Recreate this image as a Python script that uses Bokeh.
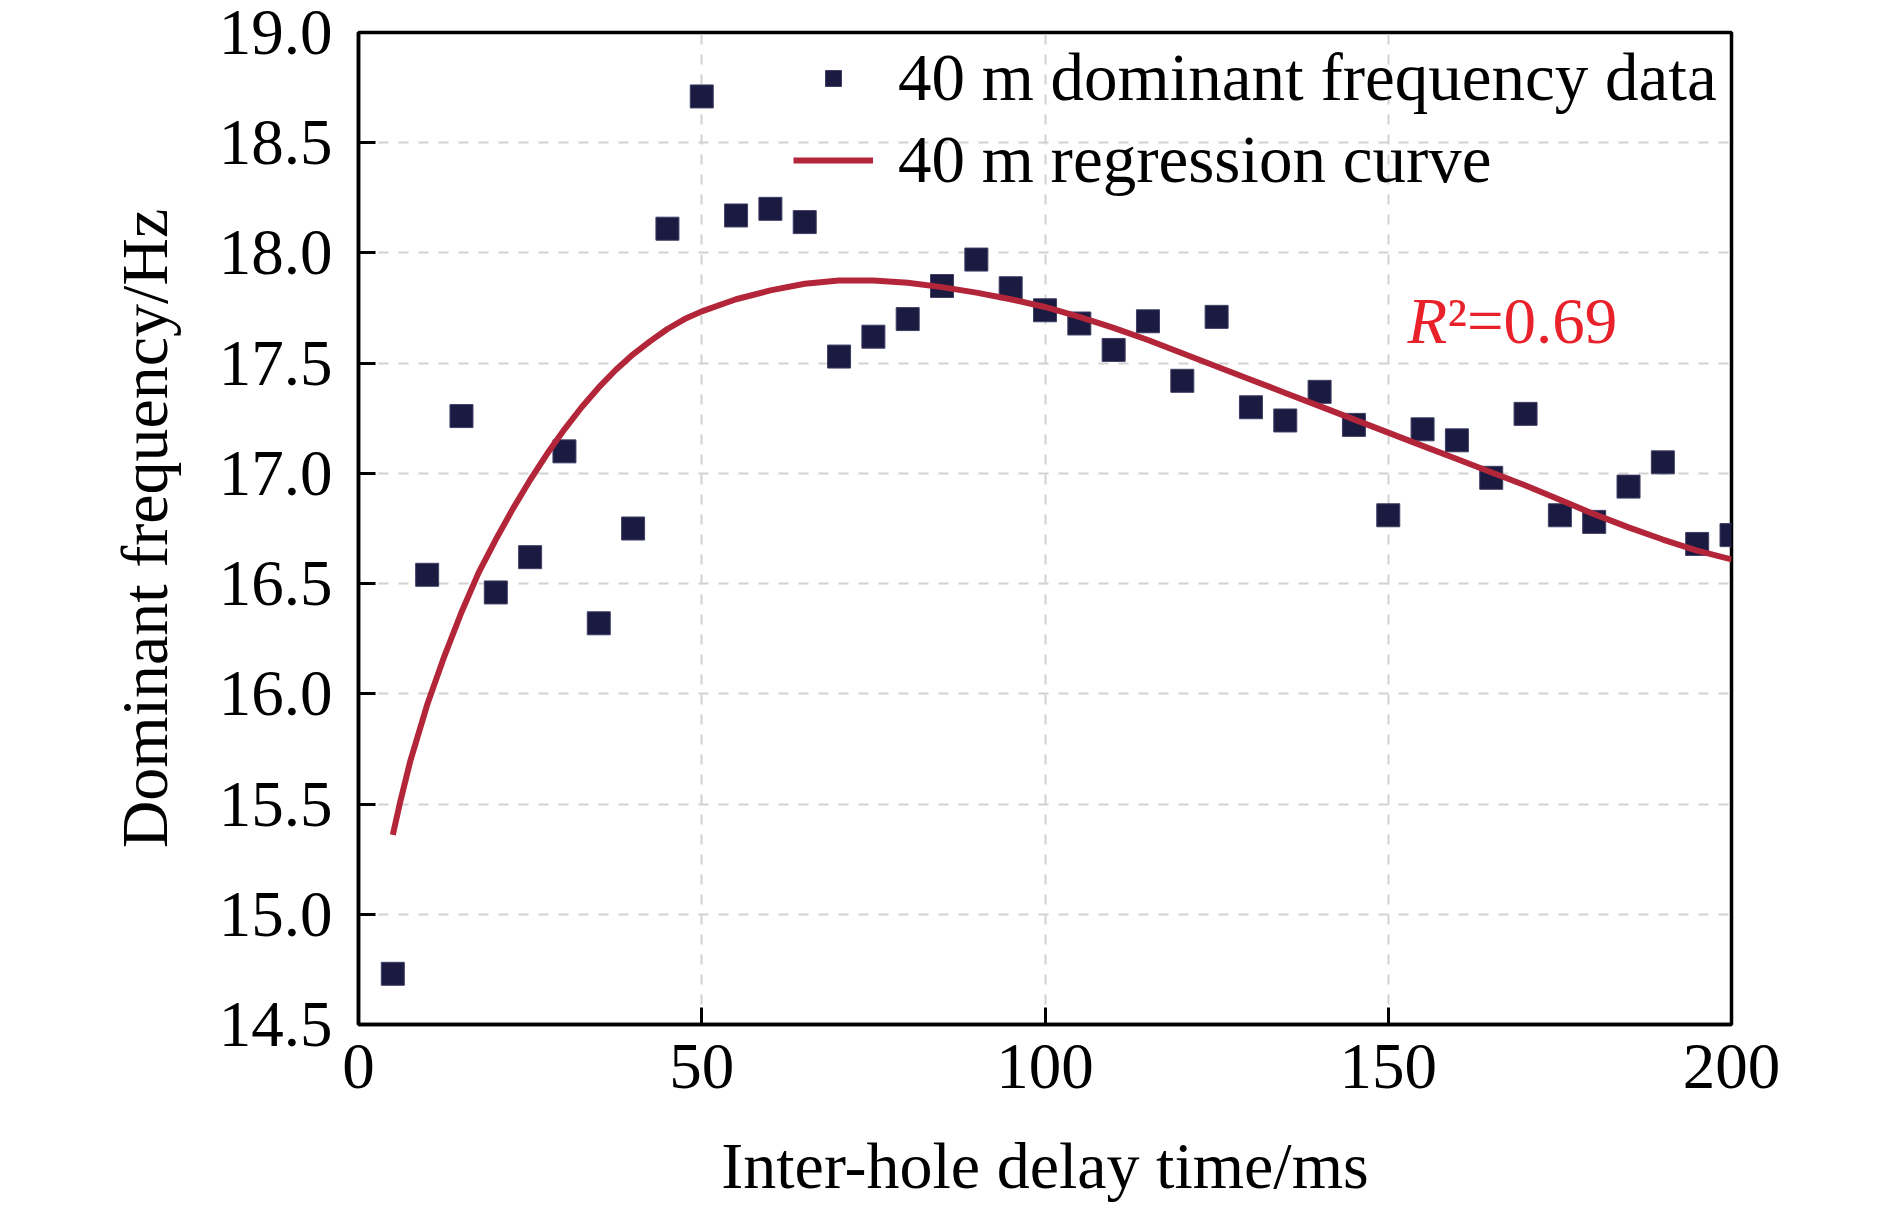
from bokeh.plotting import figure
from bokeh.models import Range1d, FixedTicker, PrintfTickFormatter, Legend, LegendItem, Label
from bokeh.embed import file_html
from bokeh.resources import INLINE

# Measured data: inter-hole delay time (ms) vs dominant frequency (Hz)
delay_ms = [5, 10, 15, 20, 25, 30, 35, 40, 45, 50, 55, 60, 65, 70, 75, 80, 85, 90, 95, 100,
            105, 110, 115, 120, 125, 130, 135, 140, 145, 150, 155, 160, 165, 170, 175, 180,
            185, 190, 195, 200]
freq_hz = [14.73, 16.54, 17.26, 16.46, 16.62, 17.10, 16.32, 16.75, 18.11, 18.71, 18.17, 18.20,
           18.14, 17.53, 17.62, 17.70, 17.85, 17.97, 17.84, 17.74, 17.68, 17.56, 17.69, 17.42,
           17.71, 17.30, 17.24, 17.37, 17.22, 16.81, 17.20, 17.15, 16.98, 17.27, 16.81, 16.78,
           16.94, 17.05, 16.68, 16.72]

# Regression curve
curve_x = [5, 6, 7.5, 10, 12.5, 15, 17.5, 20, 22.5, 25, 27.5, 30, 32.5, 35, 37.5, 40, 42.5,
           45, 47.5, 50, 55, 60, 65, 70, 75, 80, 85, 90, 95, 100, 105, 110, 115, 120, 125,
           130, 135, 140, 145, 150, 155, 160, 165, 170, 175, 180, 185, 190, 195, 200]
curve_y = [15.36, 15.50, 15.69, 15.95, 16.17, 16.37, 16.55, 16.70, 16.84, 16.97, 17.09, 17.20,
           17.30, 17.39, 17.47, 17.54, 17.60, 17.655, 17.70, 17.735, 17.79, 17.83, 17.86,
           17.875, 17.875, 17.865, 17.845, 17.82, 17.79, 17.755, 17.71, 17.66, 17.605, 17.545,
           17.485, 17.425, 17.365, 17.305, 17.245, 17.185, 17.125, 17.065, 17.005, 16.945,
           16.88, 16.815, 16.755, 16.70, 16.65, 16.61]

x_ticks = [0, 50, 100, 150, 200]
y_ticks = [14.5, 15.0, 15.5, 16.0, 16.5, 17.0, 17.5, 18.0, 18.5, 19.0]

FONT = "Liberation Serif"

p = figure(width=1874, height=1204, output_backend="svg", toolbar_location=None,
           x_range=Range1d(0, 200), y_range=Range1d(14.5, 19.0),
           min_border_left=358, min_border_right=143, min_border_top=32, min_border_bottom=179)
p.title.visible = False
p.background_fill_color = "white"
p.border_fill_color = "white"
p.outline_line_color = "black"
p.outline_line_width = 3.5
p.outline_line_alpha = 1.0

p.xaxis.ticker = FixedTicker(ticks=x_ticks)
p.yaxis.ticker = FixedTicker(ticks=y_ticks)
p.yaxis.formatter = PrintfTickFormatter(format="%.1f")
p.xaxis.axis_label = "Inter-hole delay time/ms"
p.yaxis.axis_label = "Dominant frequency/Hz"

for ax in (p.xaxis[0], p.yaxis[0]):
    ax.axis_line_width = 3.5
    ax.axis_line_color = "black"
    ax.major_tick_in = 17
    ax.major_tick_out = 0
    ax.minor_tick_in = 0
    ax.minor_tick_out = 0
    ax.major_tick_line_width = 3
    ax.major_tick_line_color = "black"
    ax.major_label_text_font = FONT
    ax.major_label_text_font_size = "65px"
    ax.major_label_text_color = "black"
    ax.axis_label_text_font = FONT
    ax.axis_label_text_font_size = "66px"
    ax.axis_label_text_font_style = "normal"
    ax.axis_label_text_color = "black"

p.xaxis.major_label_standoff = 20
p.xaxis.axis_label_standoff = 38
p.yaxis.major_label_standoff = 26
p.yaxis.axis_label_standoff = 35

for g in (p.xgrid[0], p.ygrid[0]):
    g.grid_line_color = "#d2d2d2"
    g.grid_line_width = 2
    g.grid_line_dash = "10 10"

sc = p.scatter(delay_ms, freq_hz, marker="square", size=23,
               fill_color="#1b1a40", line_color="#3f3f66", line_width=1)
ln = p.line(curve_x, curve_y, line_color="#b3263a", line_width=6)

legend = Legend(items=[LegendItem(label="40 m dominant frequency data", renderers=[sc]),
                       LegendItem(label="40 m regression curve", renderers=[ln])],
                location="top_right", margin=0, padding=7, spacing=5,
                glyph_width=80, glyph_height=40, label_standoff=25, label_width=826,
                label_text_font=FONT, label_text_font_size="67px", label_text_color="black",
                background_fill_alpha=0, border_line_alpha=0)
p.add_layout(legend)

r_label = Label(x=152.8, y=17.692, text="R", text_font=FONT, text_font_style="italic",
                text_font_size="65px", text_color="#e8212b", text_baseline="alphabetic")
r_rest = Label(x=152.8, y=17.692, x_offset=40, text="\u00b2=0.69", text_font=FONT,
               text_font_size="65px", text_color="#e8212b", text_baseline="alphabetic")
p.add_layout(r_label)
p.add_layout(r_rest)

open("out.html", "w").write(file_html(p, INLINE))
